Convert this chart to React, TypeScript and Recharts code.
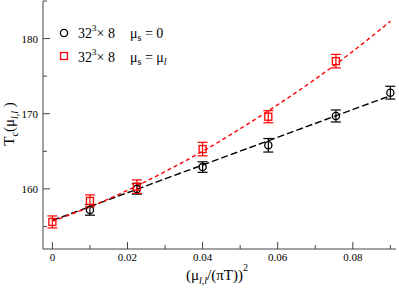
import { ComposedChart, Line, Scatter, XAxis, YAxis, ErrorBar } from 'recharts';

// mu_s = 0 (black circles)
const zeroX = [0.01, 0.0225, 0.04, 0.0575, 0.0755, 0.09];
const zeroT = [157.2, 160.0, 162.9, 165.8, 169.7, 172.8];
const zeroErr = [0.7, 0.7, 0.7, 0.9, 0.8, 0.85];

// mu_s = mu_l (red squares)
const equalX = [0, 0.01, 0.0225, 0.04, 0.0575, 0.0755];
const equalT = [155.6, 158.4, 160.3, 165.3, 169.6, 177.0];
const equalErr = [0.8, 0.8, 0.9, 0.9, 0.8, 0.9];

// fit curves
const linFitX = [0, 0.09];
const linFitT = [155.8, 172.4];
const quadFitX = [0, 0.01, 0.02, 0.03, 0.04, 0.05, 0.06, 0.07, 0.08, 0.09];
const quadFitT = [155.7, 157.6, 159.8, 162.3, 165.0, 168.0, 171.2, 174.6, 178.3, 182.3];

const xMajor = [0, 0.02, 0.04, 0.06, 0.08];
const xTicks = [0, 0.01, 0.02, 0.03, 0.04, 0.05, 0.06, 0.07, 0.08, 0.09];
const yMajor = [160, 170, 180];
const yTicks = [155, 160, 165, 170, 175, 180, 185];

const zeroData = zeroX.map((x, i) => ({ x, y: zeroT[i], err: zeroErr[i] }));
const equalData = equalX.map((x, i) => ({ x, y: equalT[i], err: equalErr[i] }));
const linData = linFitX.map((x, i) => ({ x, y: linFitT[i] }));
const quadData = quadFitX.map((x, i) => ({ x, y: quadFitT[i] }));

const FONT = "'Liberation Serif', 'Times New Roman', Times, serif";
const FRAME = '#444';
const serif = { fontFamily: FONT };

const isMajorX = (v: number) => xMajor.some((m) => Math.abs(m - v) < 1e-6);
const isMajorY = (v: number) => yMajor.includes(v);

const BottomTick = (props: any) => {
  const { x, y, payload } = props;
  const major = isMajorX(payload.value);
  return (
    <g>
      <line x1={x} y1={y} x2={x} y2={y - (major ? 7 : 4)} stroke={FRAME} />
      {major && (
        <text x={x} y={y + 12} textAnchor="middle" fontSize={11} style={serif} fill="#000">
          {payload.value === 0 ? '0' : payload.value.toFixed(2)}
        </text>
      )}
    </g>
  );
};

const TopTick = (props: any) => {
  const { x, y, payload } = props;
  const major = isMajorX(payload.value);
  return <line x1={x} y1={y} x2={x} y2={y + (major ? 7 : 4)} stroke={FRAME} />;
};

const LeftTick = (props: any) => {
  const { x, y, payload } = props;
  const major = isMajorY(payload.value);
  return (
    <g>
      <line x1={x} y1={y} x2={x + (major ? 7 : 4)} y2={y} stroke={FRAME} />
      {major && (
        <text x={x - 5} y={y + 4} textAnchor="end" fontSize={11} style={serif} fill="#000">
          {payload.value}
        </text>
      )}
    </g>
  );
};

const RightTick = (props: any) => {
  const { x, y, payload } = props;
  const major = isMajorY(payload.value);
  return <line x1={x} y1={y} x2={x - (major ? 7 : 4)} y2={y} stroke={FRAME} />;
};

const Circle = (props: any) => (
  <circle cx={props.cx} cy={props.cy} r={3.6} fill="none" stroke="#000" strokeWidth={1.3} />
);
const Square = (props: any) => (
  <rect x={props.cx - 3.5} y={props.cy - 3.5} width={7} height={7} fill="none" stroke="#ff0000" strokeWidth={1.3} />
);

const XTitle = () => (
  <text x={186} y={280} fontSize={15} style={serif} fill="#000">
    (μ
    <tspan fontSize={10} fontStyle="italic" dy={4}>l,l</tspan>
    <tspan dy={-4}>/(πT))</tspan>
    <tspan fontSize={10} dy={-9}>2</tspan>
  </text>
);

const YTitle = () => (
  <text
    x={0}
    y={0}
    transform="translate(14,124) rotate(-90)"
    textAnchor="middle"
    fontSize={15}
    style={serif}
    fill="#000"
  >
    T
    <tspan fontSize={10} dy={4}>c</tspan>
    <tspan dy={-4}>(μ</tspan>
    <tspan fontSize={10} fontStyle="italic" dy={4}>l,l</tspan>
    <tspan dy={-4}> )</tspan>
  </text>
);

const LegendBox = () => (
  <svg width={399} height={80} style={{ position: 'absolute', left: 0, top: 0, pointerEvents: 'none' }}>
    <circle cx={64} cy={33} r={3.6} fill="none" stroke="#000" strokeWidth={1.3} />
    <text x={78} y={38} fontSize={14} style={serif} fill="#000">
      32
      <tspan fontSize={9} dy={-7}>3</tspan>
      <tspan dy={7}>× 8</tspan>
    </text>
    <text x={130} y={38} fontSize={14} style={serif} fill="#000">
      μ
      <tspan fontSize={10} dy={3}>s</tspan>
      <tspan dy={-3}> = 0</tspan>
    </text>
    <rect x={60.5} y={52.5} width={7} height={7} fill="none" stroke="#ff0000" strokeWidth={1.3} />
    <text x={78} y={62} fontSize={14} style={serif} fill="#000">
      32
      <tspan fontSize={9} dy={-7}>3</tspan>
      <tspan dy={7}>× 8</tspan>
    </text>
    <text x={130} y={62} fontSize={14} style={serif} fill="#000">
      μ
      <tspan fontSize={10} dy={3}>s</tspan>
      <tspan dy={-3}> = μ</tspan>
      <tspan fontSize={10} fontStyle="italic" dy={3}>l</tspan>
    </text>
  </svg>
);

export default function App() {
  return (
    <div style={{ position: 'absolute', left: 0, top: 0, width: 399, height: 289, background: '#fff' }}>
      <ComposedChart width={399} height={289} margin={{ top: 1, right: 3, bottom: 0, left: 0 }}>
        <XAxis
          xAxisId="main"
          dataKey="x"
          type="number"
          domain={[-0.0025, 0.0915]}
          ticks={xTicks}
          allowDataOverflow
          height={40}
          tickSize={0}
          tickMargin={0}
          tickLine={false}
          stroke={FRAME}
          tick={<BottomTick />}
          interval={0}
        />
        <XAxis
          xAxisId="top"
          orientation="top"
          dataKey="x"
          type="number"
          domain={[-0.0025, 0.0915]}
          ticks={xTicks}
          allowDataOverflow
          height={0}
          tickSize={0}
          tickMargin={0}
          tickLine={false}
          stroke={FRAME}
          tick={<TopTick />}
          interval={0}
        />
        <YAxis
          yAxisId="main"
          type="number"
          domain={[152, 185]}
          ticks={yTicks}
          allowDataOverflow
          width={43}
          tickSize={0}
          tickMargin={0}
          tickLine={false}
          stroke={FRAME}
          tick={<LeftTick />}
          interval={0}
        />
        <YAxis
          yAxisId="right"
          orientation="right"
          type="number"
          domain={[152, 185]}
          ticks={yTicks}
          allowDataOverflow
          width={0}
          tickSize={0}
          tickMargin={0}
          tickLine={false}
          stroke={FRAME}
          tick={<RightTick />}
          interval={0}
        />
        <Line
          xAxisId="main"
          yAxisId="main"
          data={linData}
          dataKey="y"
          type="linear"
          stroke="#000"
          strokeWidth={1.4}
          strokeDasharray="7 3"
          dot={false}
          isAnimationActive={false}
        />
        <Line
          xAxisId="main"
          yAxisId="main"
          data={quadData}
          dataKey="y"
          type="monotone"
          stroke="#ff0000"
          strokeWidth={1.4}
          strokeDasharray="4 3"
          dot={false}
          isAnimationActive={false}
        />
        <Scatter
          xAxisId="main"
          yAxisId="main"
          data={zeroData}
          dataKey="y"
          shape={<Circle />}
          isAnimationActive={false}
        >
          <ErrorBar dataKey="err" direction="y" width={5} stroke="#000" strokeWidth={1.2} />
        </Scatter>
        <Scatter
          xAxisId="main"
          yAxisId="main"
          data={equalData}
          dataKey="y"
          shape={<Square />}
          isAnimationActive={false}
        >
          <ErrorBar dataKey="err" direction="y" width={5} stroke="#ff0000" strokeWidth={1.2} />
        </Scatter>
      </ComposedChart>
      <svg width={399} height={289} style={{ position: 'absolute', left: 0, top: 0, pointerEvents: 'none' }}>
        <XTitle />
        <YTitle />
      </svg>
      <LegendBox />
    </div>
  );
}
